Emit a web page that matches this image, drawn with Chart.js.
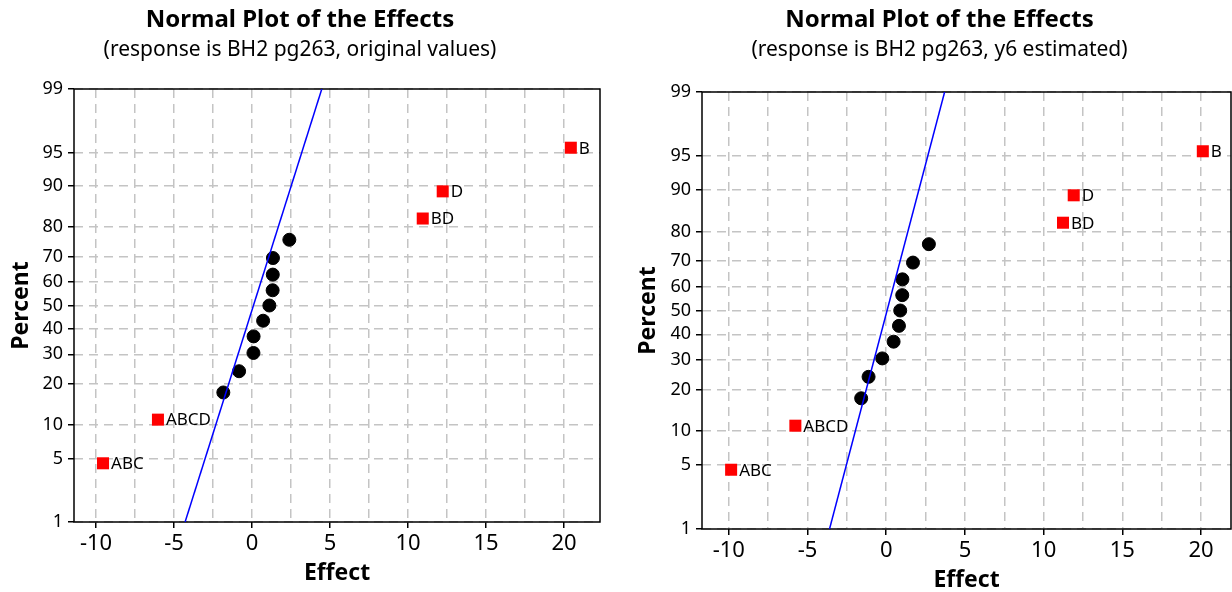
<!DOCTYPE html>
<html>
<head>
<meta charset="utf-8">
<title>Normal Plot of the Effects</title>
<script src="https://cdn.jsdelivr.net/npm/chart.js@4"></script>
<style>
body { margin: 0; background: #fff; }
.wrap { display: flex; }
canvas { display: block; }
</style>
</head>
<body>
<div class="wrap">
<canvas id="leftChart" width="616" height="592"></canvas>
<canvas id="rightChart" width="616" height="592"></canvas>
</div>
<script>
// effects that stand out (red squares) and their plot positions
var bigLabels = ['ABC', 'ABCD', 'BD', 'D', 'B'];
var bigPercent = [4.5, 11.0, 82.5, 89.0, 95.5];
var smallPercent = [17.5, 24.0, 30.5, 37.0, 43.5, 50.0, 56.5, 63.0, 69.5, 76.0];
var linePercent = [1, 99];

// original values
var origBigEffect = [-9.55, -6.03, 10.94, 12.22, 20.43];
var origSmallEffect = [-1.84, -0.83, 0.09, 0.10, 0.71, 1.11, 1.32, 1.33, 1.34, 2.39];
var origLineEffect = [-4.29, 4.47];

// y6 estimated
var estBigEffect = [-9.85, -5.77, 11.23, 11.91, 20.11];
var estSmallEffect = [-1.59, -1.12, -0.25, 0.47, 0.81, 0.89, 1.02, 1.03, 1.70, 2.71];
var estLineEffect = [-3.60, 3.71];

var percentTicks = [1, 5, 10, 20, 30, 40, 50, 60, 70, 80, 90, 95, 99];
var effectTicks = [-10, -7.5, -5, -2.5, 0, 2.5, 5, 7.5, 10, 12.5, 15, 17.5, 20];

Chart.defaults.font.family = '"Noto Sans", sans-serif';
Chart.defaults.color = '#000';

// inverse normal cdf (Acklam), used for the probability axis
function probit(p) {
    var a = [-3.969683028665376e+01, 2.209460984245205e+02, -2.759285104469687e+02, 1.383577518672690e+02, -3.066479806614716e+01, 2.506628277459239e+00];
    var b = [-5.447609879822406e+01, 1.615858368580409e+02, -1.556989798598866e+02, 6.680131188771972e+01, -1.328068155288572e+01];
    var c = [-7.784894002430293e-03, -3.223964580411365e-01, -2.400758277161838e+00, -2.549732539343734e+00, 4.374664141464968e+00, 2.938163982698783e+00];
    var d = [7.784695709041462e-03, 3.224671290700398e-01, 2.445134137142996e+00, 3.754408661907416e+00];
    var pLow = 0.02425, q, r;
    if (p < pLow) {
        q = Math.sqrt(-2 * Math.log(p));
        return (((((c[0]*q+c[1])*q+c[2])*q+c[3])*q+c[4])*q+c[5]) / ((((d[0]*q+d[1])*q+d[2])*q+d[3])*q+1);
    }
    if (p <= 1 - pLow) {
        q = p - 0.5;
        r = q * q;
        return (((((a[0]*r+a[1])*r+a[2])*r+a[3])*r+a[4])*r+a[5])*q / (((((b[0]*r+b[1])*r+b[2])*r+b[3])*r+b[4])*r+1);
    }
    q = Math.sqrt(-2 * Math.log(1 - p));
    return -(((((c[0]*q+c[1])*q+c[2])*q+c[3])*q+c[4])*q+c[5]) / ((((d[0]*q+d[1])*q+d[2])*q+d[3])*q+1);
}

function toPoints(effects, percents) {
    return effects.map(function(e, i) {
        return { x: e, y: probit(percents[i] / 100) };
    });
}

var framePlugin = {
    id: 'frame',
    beforeDatasetsDraw: function(chart) {
        var a = chart.chartArea, ctx = chart.ctx;
        ctx.save();
        ctx.strokeStyle = '#000';
        ctx.lineWidth = 1.5;
        ctx.strokeRect(a.left, a.top, a.right - a.left, a.bottom - a.top);
        ctx.restore();
    }
};

var pointLabelPlugin = {
    id: 'pointLabels',
    afterDatasetsDraw: function(chart) {
        var ctx = chart.ctx;
        ctx.save();
        ctx.font = '17px "Noto Sans", sans-serif';
        ctx.fillStyle = '#000';
        ctx.textAlign = 'left';
        ctx.textBaseline = 'middle';
        chart.data.datasets.forEach(function(ds, i) {
            if (!ds.pointLabels) return;
            chart.getDatasetMeta(i).data.forEach(function(pt, j) {
                ctx.fillText(ds.pointLabels[j], pt.x + 8, pt.y + 1);
            });
        });
        ctx.restore();
    }
};

function createEffectsChart(canvasId, subtitle, bigEffect, smallEffect, lineEffect, look) {
    var ctx = document.getElementById(canvasId).getContext('2d');
    var gridColor = '#c4c4c4';
    new Chart(ctx, {
        type: 'scatter',
        data: {
            datasets: [{
                type: 'line',
                data: toPoints(lineEffect, linePercent),
                borderColor: '#0000ff',
                borderWidth: 1.5,
                pointRadius: 0,
                fill: false
            }, {
                data: toPoints(smallEffect, smallPercent),
                pointStyle: 'circle',
                pointRadius: 6.5,
                backgroundColor: '#000',
                borderColor: '#000',
                borderWidth: 1
            }, {
                data: toPoints(bigEffect, bigPercent),
                pointStyle: 'rect',
                pointRadius: 8.5,
                backgroundColor: '#ff0000',
                borderWidth: 0,
                pointLabels: bigLabels
            }]
        },
        options: {
            responsive: false,
            animation: false,
            events: [],
            layout: {
                autoPadding: false,
                padding: { left: look.padLeft, right: look.padRight, top: 0, bottom: 0 }
            },
            scales: {
                x: {
                    type: 'linear',
                    min: look.xMin,
                    max: look.xMax,
                    afterBuildTicks: function(scale) {
                        scale.ticks = effectTicks.map(function(v) { return { value: v }; });
                    },
                    afterFit: function(scale) {
                        scale.height = look.xAxisHeight;
                        scale.paddingLeft = 0;
                        scale.paddingRight = 0;
                    },
                    ticks: {
                        autoSkip: false,
                        maxRotation: 0,
                        padding: 3,
                        font: { size: 22 },
                        callback: function(v) { return v % 5 === 0 ? v : ''; }
                    },
                    grid: {
                        color: gridColor,
                        lineWidth: 1.5,
                        tickLength: 6,
                        tickWidth: 1.5,
                        tickColor: function(c) {
                            return c.tick && c.tick.value % 5 === 0 ? '#000' : 'rgba(0,0,0,0)';
                        }
                    },
                    border: { display: false, dash: [9, 6] },
                    title: {
                        display: true,
                        text: 'Effect',
                        font: { size: 23, weight: 'bold' },
                        padding: { top: 0, bottom: look.xTitlePad }
                    }
                },
                y: {
                    type: 'linear',
                    min: probit(0.01),
                    max: probit(0.99),
                    afterBuildTicks: function(scale) {
                        scale.ticks = percentTicks.map(function(p) { return { value: probit(p / 100) }; });
                    },
                    afterFit: function(scale) {
                        scale.width = look.yAxisWidth;
                        scale.paddingTop = 0;
                        scale.paddingBottom = 0;
                    },
                    ticks: {
                        autoSkip: false,
                        padding: 5,
                        font: { size: 18 },
                        callback: function(v, i) { return percentTicks[i]; }
                    },
                    grid: {
                        color: gridColor,
                        lineWidth: 1.5,
                        tickLength: 6,
                        tickWidth: 1.5,
                        tickColor: '#000'
                    },
                    border: { display: false, dash: [9, 6] },
                    title: {
                        display: true,
                        text: 'Percent',
                        font: { size: 23, weight: 'bold' },
                        padding: { top: look.yTitlePad, bottom: 0 }
                    }
                }
            },
            plugins: {
                legend: { display: false },
                tooltip: { enabled: false },
                title: {
                    display: true,
                    text: 'Normal Plot of the Effects',
                    font: { size: 24, weight: 'bold' },
                    padding: { top: 6, bottom: 3 }
                },
                subtitle: {
                    display: true,
                    text: subtitle,
                    font: { size: 21 },
                    padding: { top: 0, bottom: look.subPad }
                }
            }
        },
        plugins: [framePlugin, pointLabelPlugin]
    });
}

createEffectsChart('leftChart', '(response is BH2 pg263, original values)',
    origBigEffect, origSmallEffect, origLineEffect,
    { padLeft: 0, padRight: 16, yAxisWidth: 74, xAxisHeight: 70, yTitlePad: 8, xTitlePad: 5, subPad: 26, xMin: -11.41, xMax: 22.3 });

createEffectsChart('rightChart', '(response is BH2 pg263, y6 estimated)',
    estBigEffect, estSmallEffect, estLineEffect,
    { padLeft: 32, padRight: 1, yAxisWidth: 54, xAxisHeight: 63, yTitlePad: -13, xTitlePad: -2, subPad: 29, xMin: -11.7, xMax: 21.9 });
</script>
</body>
</html>
